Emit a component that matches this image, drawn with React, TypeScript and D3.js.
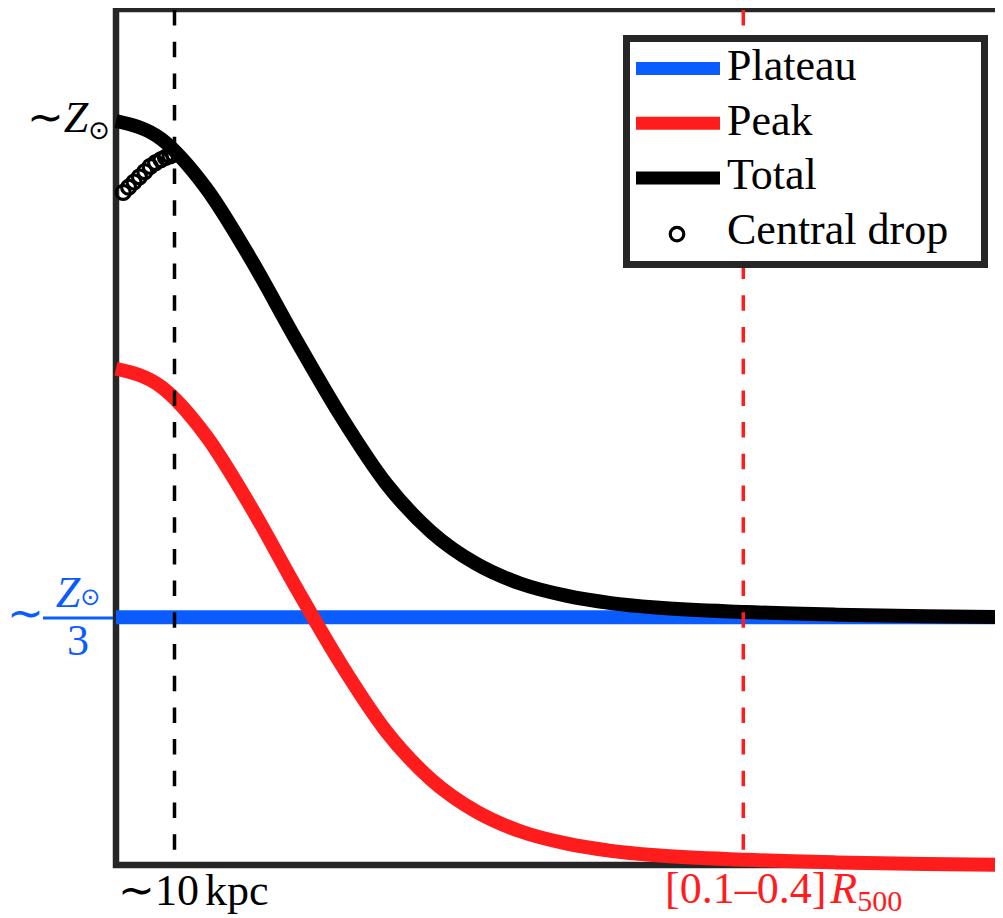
import React from "react";
import * as d3 from "d3";

// Radius samples (arbitrary units across the panel) and the peak component, in units of Z☉
const RADIUS = [0, 5, 10, 15, 20, 25, 30, 35, 40, 45, 50, 55, 60, 70, 80, 90, 100];
const PEAK = [0.667, 0.643, 0.577, 0.481, 0.373, 0.27, 0.18, 0.115, 0.072, 0.045, 0.029, 0.019, 0.013, 0.007, 0.0035, 0.0012, 0.0];
const PLATEAU = [0.333, 0.333, 0.333, 0.333, 0.333, 0.333, 0.333, 0.333, 0.333, 0.333, 0.333, 0.333, 0.333, 0.333, 0.333, 0.333, 0.333];

// Central drop markers
const DROP_R = [0.8, 1.4, 2.0, 2.6, 3.2, 3.8, 4.4, 5.0, 5.5, 6.0, 6.4];
const DROP_Z = [0.904, 0.911, 0.918, 0.925, 0.932, 0.939, 0.944, 0.948, 0.951, 0.953, 0.955];

// Marked radii
const R_10KPC = 6.5;
const R_R500 = 69.7;

const LEGEND = ["Plateau", "Peak", "Total", "Central drop"];

const BLUE = "#0a5cff";
const RED = "#ff1c1c";
const FRAME = "#262626";
const SERIF = "Liberation Serif";
const SYMBOL = "DejaVu Sans";

export default function App() {
  const x = d3.scaleLinear().domain([0, 100]).range([116, 1016]);
  const y = d3.scaleLinear().domain([0, 1]).range([865, 121]);

  const total = PEAK.map((p, i) => p + PLATEAU[i]);
  const line = d3
    .line<number>()
    .x((_, i) => x(RADIUS[i]))
    .y((d) => y(d))
    .curve(d3.curveMonotoneX);

  const top = 9;
  const bottom = y(0);
  const left = x(0);

  const legendRows = [
    { label: LEGEND[0], color: BLUE, kind: "line" },
    { label: LEGEND[1], color: RED, kind: "line" },
    { label: LEGEND[2], color: "#000", kind: "line" },
    { label: LEGEND[3], color: "#000", kind: "marker" },
  ];

  return (
    <svg width={1003} height={918} style={{ display: "block", margin: "-8px 0 0 -8px" }} fontFamily={SERIF}>
      {/* axes frame */}
      <path
        d={`M1030,${top} H${left} V${bottom} H1030`}
        fill="none"
        stroke={FRAME}
        strokeWidth={6.5}
        strokeLinejoin="miter"
      />

      {/* components */}
      <path d={line(PLATEAU) ?? ""} fill="none" stroke={BLUE} strokeWidth={14} />
      <path d={line(PEAK) ?? ""} fill="none" stroke={RED} strokeWidth={14} />
      <path d={line(total) ?? ""} fill="none" stroke="#000" strokeWidth={14} />

      {/* reference radii */}
      <line
        x1={x(R_10KPC)}
        x2={x(R_10KPC)}
        y1={top + 1}
        y2={bottom}
        stroke="#000"
        strokeWidth={3.5}
        strokeDasharray="15.5,16.2"
      />
      <line
        x1={x(R_R500)}
        x2={x(R_R500)}
        y1={top + 1}
        y2={bottom}
        stroke={RED}
        strokeWidth={3.5}
        strokeDasharray="15.5,16.2"
      />

      {/* central drop */}
      {DROP_R.map((r, i) => (
        <circle key={i} cx={x(r)} cy={y(DROP_Z[i])} r={7} fill="none" stroke="#000" strokeWidth={3.2} />
      ))}

      {/* legend */}
      <rect x={626.5} y={38.5} width={358} height={226} fill="#fff" stroke={FRAME} strokeWidth={7} />
      {legendRows.map((row, i) => {
        const base = 80 + i * 54.7;
        const cy = base - 11.5;
        return (
          <g key={row.label}>
            {row.kind === "line" ? (
              <line x1={636} x2={720} y1={cy} y2={cy} stroke={row.color} strokeWidth={13} />
            ) : (
              <circle cx={677} cy={cy + 1.5} r={6.8} fill="none" stroke="#000" strokeWidth={3.2} />
            )}
            <text x={727} y={base} fontSize={44} fontFamily={SERIF}>
              {row.label}
            </text>
          </g>
        );
      })}

      {/* y labels */}
      <text x={110} y={132} fontSize={44} textAnchor="end" fontFamily={SERIF}>
        <tspan>∼</tspan>
        <tspan fontStyle="italic">Z</tspan>
        <tspan fontSize={26} fontFamily={SYMBOL} dy={7}>⊙</tspan>
      </text>

      <text x={25} y={628} fontSize={44} textAnchor="middle" fill={BLUE} fontFamily={SERIF}>∼</text>
      <text x={78} y={607} fontSize={44} textAnchor="middle" fill={BLUE} fontFamily={SERIF}>
        <tspan fontStyle="italic">Z</tspan>
        <tspan fontSize={24} fontFamily={SYMBOL} dy={-2}>⊙</tspan>
      </text>
      <line x1={43} x2={113} y1={618} y2={618} stroke={BLUE} strokeWidth={3} />
      <text x={78} y={655} fontSize={44} textAnchor="middle" fill={BLUE} fontFamily={SERIF}>3</text>

      {/* x labels */}
      <text x={118} y={905} fontSize={44} fontFamily={SERIF}>
        ∼10<tspan dx={6}>kpc</tspan>
      </text>
      <text x={665} y={903} fontSize={44} fill={RED} fontFamily={SERIF}>
        [0.1–0.4]
        <tspan fontStyle="italic" dx={4}>R</tspan>
        <tspan fontSize={30} dy={8}>500</tspan>
      </text>
    </svg>
  );
}
